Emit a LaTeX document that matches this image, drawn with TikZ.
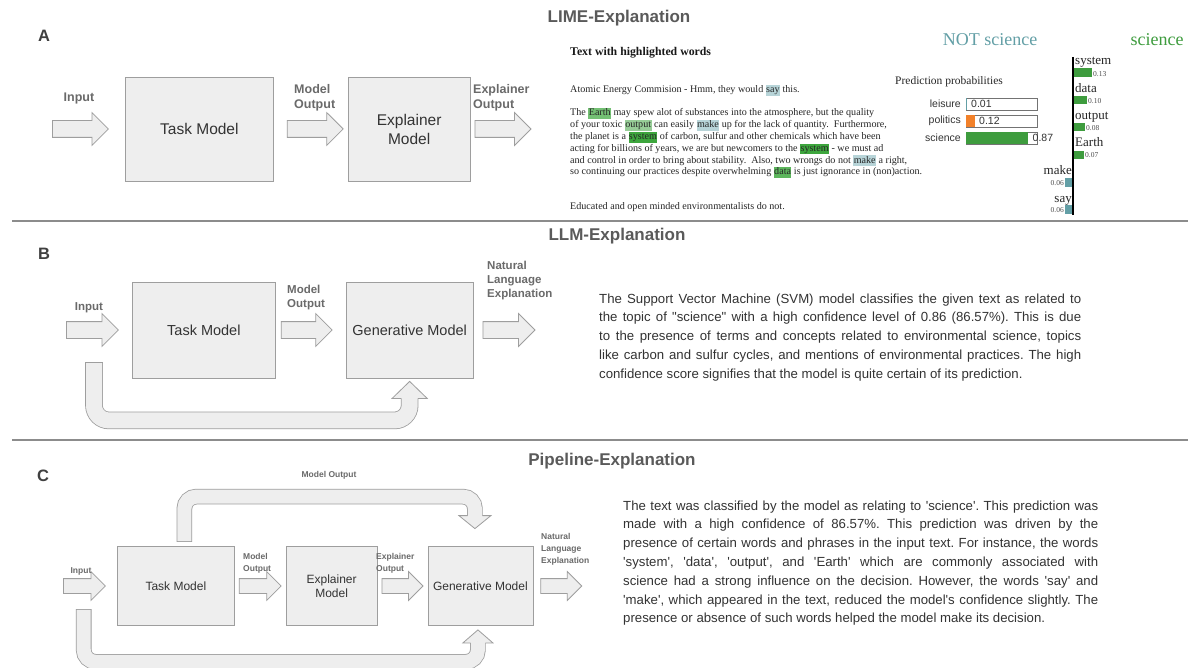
\documentclass[tikz,border=0pt]{standalone}
\usepackage{fontspec}
\setmainfont{Liberation Sans}[Ligatures=TeXOff]
\newfontfamily\limefont{Liberation Serif}
\usetikzlibrary{positioning,shapes.arrows,calc}
\definecolor{boxfill}{HTML}{EEEEEE}
\definecolor{boxline}{HTML}{9E9E9E}
\definecolor{labelgray}{HTML}{6A6A6A}
\definecolor{titlegray}{HTML}{5A5A5A}
\definecolor{lettergray}{HTML}{404040}
\definecolor{textgray}{HTML}{333333}
\definecolor{sepgray}{HTML}{8C8C8C}
\definecolor{limegreen}{HTML}{3E9C3E}
\definecolor{limeteal}{HTML}{639FA6}
\definecolor{limeorange}{HTML}{F2812A}
\definecolor{hlblue}{HTML}{B7D4D8}
\definecolor{hldark}{HTML}{3DA63D}
\definecolor{hlmid}{HTML}{74C074}
\definecolor{hllight}{HTML}{97CD97}
\definecolor{hldata}{HTML}{5DB65D}
\newcommand{\hlw}[2]{{\setlength{\fboxsep}{0.4pt}\colorbox{#1}{\rule[-2.6pt]{0pt}{10pt}#2}}}
\frenchspacing

\begin{document}
\begin{tikzpicture}[x=1pt, y=-1pt,
    model/.style={draw=boxline, fill=boxfill, line width=0.8pt, text=textgray, align=center, inner sep=2pt},
    flow/.style={single arrow, draw=boxline, fill=boxfill, line width=0.8pt, inner sep=0pt, single arrow head indent=0pt},
    flowbig/.style={flow, inner ysep=8pt, single arrow head extend=8pt},
    flowsmall/.style={flow, inner ysep=7pt, single arrow head extend=7pt},
    lbl/.style={text=labelgray, font=\bfseries\fontsize{12.5}{15.5}\selectfont, align=left, inner sep=0pt},
    lblB/.style={text=labelgray, font=\bfseries\fontsize{11.5}{14}\selectfont, align=left, inner sep=0pt},
    lblC/.style={text=labelgray, font=\bfseries\fontsize{8.5}{12}\selectfont, align=left, inner sep=0pt},
    panel/.style={text=lettergray, font=\bfseries\fontsize{16.5}{18}\selectfont, inner sep=0pt},
    heading/.style={text=titlegray, font=\bfseries\fontsize{17}{19}\selectfont, inner sep=0pt},
    loopband/.style={draw=boxline, line width=0.8pt, double=boxfill, line cap=rect},
    headline/.style={draw=boxline, line width=0.8pt, line join=miter},
    sep/.style={draw=sepgray, line width=1.6pt},
    para/.style={text=textgray, font=\fontsize{13.2}{18.8}\selectfont, align=justify, inner sep=0pt},
    limetxt/.style={text=black!85, font=\limefont\fontsize{10.1}{11.8}\selectfont, align=left, inner sep=0pt},
    problbl/.style={text=textgray, font=\fontsize{10.5}{12}\selectfont, inner sep=0pt},
    probbox/.style={draw=black!55, line width=0.7pt},
    wordlbl/.style={text=black!85, font=\limefont\fontsize{13}{14}\selectfont, inner sep=0pt},
    wordval/.style={text=black!70, font=\limefont\fontsize{7.5}{8}\selectfont, inner sep=0pt}
]
\fill[white] (0,0) rectangle (1188,668);
\useasboundingbox (0,0) rectangle (1188,668);

\node[panel] (letA) at (44,36) {A};
\node[heading] (headA) at (619,18) {LIME-Explanation};
\node[flowbig, minimum height=56pt, anchor=west] (inA) at (52,129) {};
\node[model, minimum width=148pt, minimum height=104pt, right=16pt of inA, font=\fontsize{15.5}{18}\selectfont] (taskA) {Task Model};
\node[flowbig, minimum height=56pt, right=13pt of taskA] (moA) {};
\node[model, minimum width=122pt, minimum height=104pt, right=4pt of moA, font=\fontsize{15.5}{19}\selectfont] (explA) {Explainer\\Model};
\node[flowbig, minimum height=56pt, right=4pt of explA] (eoA) {};
\node[lbl] (inLblA) at (79,98) {Input};
\node[lbl, anchor=west] (moLblA) at (294,98) {Model\\Output};
\node[lbl, anchor=west] (eoLblA) at (473,98) {Explainer\\Output};

\node[anchor=base west, inner sep=0pt, text=black!90, font=\limefont\bfseries\fontsize{11.8}{13}\selectfont] (limeHead) at (570,56) {Text with highlighted words};
\node[limetxt, anchor=base west] (limeFirst) at (570,93) {Atomic Energy Commision - Hmm, they would \hlw{hlblue}{say} this.};
\node[limetxt, anchor=base west] (limeBody) at (570,175) {The \hlw{hlmid}{Earth} may spew alot of substances into the atmosphere, but the quality\\
of your toxic \hlw{hllight}{output} can easily \hlw{hlblue}{make} up for the lack of quantity.\ \ Furthermore,\\
the planet is a \hlw{hldark}{system} of carbon, sulfur and other chemicals which have been\\
acting for billions of years, we are but newcomers to the \hlw{hldark}{system} - we must ad\\
and control in order to bring about stability.\ \ Also, two wrongs do not \hlw{hlblue}{make} a right,\\
so continuing our practices despite overwhelming \hlw{hldata}{data} is just ignorance in (non)action.};
\node[limetxt, anchor=base west] (limeLast) at (570,210) {Educated and open minded environmentalists do not.};

\node[text=limeteal, font=\limefont\fontsize{18}{20}\selectfont, inner sep=0pt] (notSci) at (990,40) {NOT science};
\node[text=limegreen, font=\limefont\fontsize{18}{20}\selectfont, inner sep=0pt] (yesSci) at (1157,40) {science};
\node[text=black!85, font=\limefont\fontsize{11.5}{13}\selectfont, inner sep=0pt] (probHead) at (949,82) {Prediction probabilities};
\node[problbl, anchor=east] (pLeis) at (961,104) {leisure};
\node[problbl, anchor=east] (pPol) at (961,121) {politics};
\node[problbl, anchor=east] (pSci) at (961,138) {science};
\draw[probbox] (966,98) rectangle (1037,110);
\fill[limeteal] (966.4,98.4) rectangle (967.2,109.6);
\draw[probbox] (966,115) rectangle (1037,127);
\fill[limeorange] (966.4,115.4) rectangle (975,126.6);
\draw[probbox] (966,132) rectangle (1037,144);
\fill[limegreen] (966.4,132.4) rectangle (1028,143.6);
\node[problbl, anchor=west] (vLeis) at (971,104) {0.01};
\node[problbl, anchor=west] (vPol) at (979,121) {0.12};
\node[problbl, anchor=west] (vSci) at (1032.5,138) {0.87};

\fill[limegreen] (1074,68) rectangle (1092,77);
\fill[limegreen] (1074,96) rectangle (1087,104);
\fill[limegreen] (1074,123) rectangle (1085,131);
\fill[limegreen] (1074,151) rectangle (1084,159);
\fill[limeteal] (1065,178) rectangle (1073,187);
\fill[limeteal] (1065,205) rectangle (1073,214);
\draw[line width=1.4pt] (1073,57) -- (1073,215);
\node[wordlbl, anchor=base west] (wSystem) at (1075,64.5) {system};
\node[wordlbl, anchor=base west] (wData) at (1075,92.5) {data};
\node[wordlbl, anchor=base west] (wOutput) at (1075,119.5) {output};
\node[wordlbl, anchor=base west] (wEarth) at (1075,147) {Earth};
\node[wordlbl, anchor=base east] (wMake) at (1072,174.5) {make};
\node[wordlbl, anchor=base east] (wSay) at (1072,202.5) {say};
\node[wordval, anchor=base west] (nSystem) at (1093,76.5) {0.13};
\node[wordval, anchor=base west] (nData) at (1088,103.5) {0.10};
\node[wordval, anchor=base west] (nOutput) at (1086,130.5) {0.08};
\node[wordval, anchor=base west] (nEarth) at (1085,158) {0.07};
\node[wordval, anchor=base east] (nMake) at (1064,185.5) {0.06};
\node[wordval, anchor=base east] (nSay) at (1064,213) {0.06};

\draw[sep] (12,221) -- (1188,221);

\node[panel] (letB) at (44,254) {B};
\node[heading] (headB) at (617,236) {LLM-Explanation};
\node[flowbig, minimum height=52pt, anchor=west] (inB) at (66,330) {};
\node[model, minimum width=143pt, minimum height=96pt, right=13pt of inB, font=\fontsize{14.5}{17}\selectfont] (taskB) {Task Model};
\node[flowbig, minimum height=51pt, right=5pt of taskB] (moB) {};
\node[model, minimum width=127pt, minimum height=96pt, right=13pt of moB, font=\fontsize{14.5}{17}\selectfont] (genB) {Generative Model};
\node[flowbig, minimum height=52pt, right=9pt of genB] (nleB) {};
\node[lblB] (inLblB) at (89,308) {Input};
\node[lblB, anchor=west] (moLblB) at (287,298) {Model\\Output};
\node[lblB, anchor=west] (nleLblB) at (487,281) {Natural\\Language\\Explanation};
\coordinate (loopB) at (94,371);
\draw[loopband, double distance=16pt, rounded corners=15pt] (loopB) |- ($(genB.south)+(0,42)$) -- ($(genB.south)+(0,22)$);
\fill[boxfill] ($(genB.south)+(-17.5,20)$) -- ($(genB.south)+(0,3)$) -- ($(genB.south)+(17.5,20)$) -- cycle;
\draw[headline] ($(genB.south)+(-8.4,20)$) -- ($(genB.south)+(-17.5,20)$) -- ($(genB.south)+(0,3)$) -- ($(genB.south)+(17.5,20)$) -- ($(genB.south)+(8.4,20)$);
\node[para, text width=482pt, anchor=base west] (txtB) at (599,303) {The Support Vector Machine (SVM) model classifies the given text as related to\linebreak
the topic of "science" with a high confidence level of 0.86 (86.57\%). This is due\linebreak
to the presence of terms and concepts related to environmental science, topics\linebreak
like carbon and sulfur cycles, and mentions of environmental practices. The high\linebreak
confidence score signifies that the model is quite certain of its prediction.};

\draw[sep] (12,440) -- (1188,440);

\node[panel] (letC) at (43,476) {C};
\node[heading] (headC) at (612,461) {Pipeline-Explanation};
\node[flowsmall, minimum height=42pt, anchor=west] (inC) at (63,586) {};
\node[model, minimum width=117pt, minimum height=79pt, right=11pt of inC, font=\fontsize{12}{14}\selectfont] (taskC) {Task Model};
\node[flowsmall, minimum height=42pt, right=4pt of taskC] (moC) {};
\node[model, minimum width=91pt, minimum height=79pt, right=4pt of moC, font=\fontsize{12}{14.5}\selectfont] (explC) {Explainer\\Model};
\node[flowsmall, minimum height=41pt, right=4pt of explC] (eoC) {};
\node[model, minimum width=105pt, minimum height=79pt, right=4pt of eoC, font=\fontsize{12}{14}\selectfont] (genC) {Generative Model};
\node[flowsmall, minimum height=41pt, right=7pt of genC] (nleC) {};
\node[lblC] (inLblC) at (81,571) {Input};
\node[lblC, anchor=west] (moLblC) at (243,563) {Model\\Output};
\node[lblC, anchor=west] (eoLblC) at (376,563) {Explainer\\Output};
\node[lblC, anchor=west] (nleLblC) at (541,549) {Natural\\Language\\Explanation};
\node[lblC] (topLblC) at (329,475) {Model Output};
\coordinate (upC) at ($(taskC.north)+(8.5,-12)$);
\draw[loopband, double distance=14pt, rounded corners=12pt] (upC) |- ($(genC.north)+(-5.5,-49.5)$) -- ($(genC.north)+(-5.5,-32.5)$);
\fill[boxfill] ($(genC.north)+(-21.5,-30.5)$) -- ($(genC.north)+(-5.5,-17.5)$) -- ($(genC.north)+(10.5,-30.5)$) -- cycle;
\draw[headline] ($(genC.north)+(-12.9,-30.5)$) -- ($(genC.north)+(-21.5,-30.5)$) -- ($(genC.north)+(-5.5,-17.5)$) -- ($(genC.north)+(10.5,-30.5)$) -- ($(genC.north)+(1.9,-30.5)$);
\coordinate (downC) at ($(inC.south)+(3,23)$);
\draw[loopband, double distance=14pt, rounded corners=12pt] (downC) |- ($(genC.south)+(-2.5,36)$) -- ($(genC.south)+(-2.5,19)$);
\fill[boxfill] ($(genC.south)+(-17.5,17)$) -- ($(genC.south)+(-2.5,4)$) -- ($(genC.south)+(12.5,17)$) -- cycle;
\draw[headline] ($(genC.south)+(-9.9,17)$) -- ($(genC.south)+(-17.5,17)$) -- ($(genC.south)+(-2.5,4)$) -- ($(genC.south)+(12.5,17)$) -- ($(genC.south)+(4.9,17)$);
\node[para, text width=475pt, anchor=base west] (txtC) at (623,510) {The text was classified by the model as relating to 'science'. This prediction was\linebreak
made with a high confidence of 86.57\%. This prediction was driven by the\linebreak
presence of certain words and phrases in the input text. For instance, the words\linebreak
'system', 'data', 'output', and 'Earth' which are commonly associated with\linebreak
science had a strong influence on the decision. However, the words 'say' and\linebreak
'make', which appeared in the text, reduced the model's confidence slightly. The\linebreak
presence or absence of such words helped the model make its decision.};
\end{tikzpicture}
\end{document}
